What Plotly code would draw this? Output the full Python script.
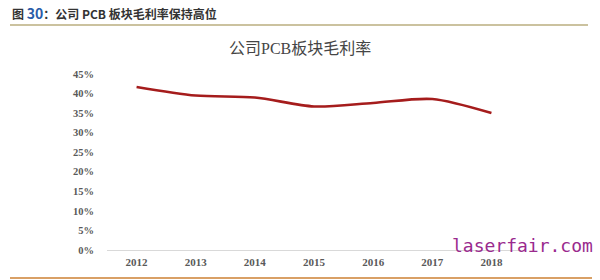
import plotly.graph_objects as go

years = ["2012", "2013", "2014", "2015", "2016", "2017", "2018"]
margin_pct = [41.7, 39.5, 39.0, 36.7, 37.6, 38.6, 35.0]
y_ticks = [0, 5, 10, 15, 20, 25, 30, 35, 40, 45]
y_labels = [f"<b>{v}%</b>" for v in y_ticks]
x_labels = [f"<b>{y}</b>" for y in years]

W, H = 600, 280
L, R, T, B = 107, 521, 74, 250


def px(x):
    return (x - L) / (R - L)


def py(y):
    return (B - y) / (B - T)


fig = go.Figure()
fig.add_trace(go.Scatter(
    x=years, y=margin_pct, mode="lines",
    line=dict(color="#A51C1C", width=2.6, shape="spline", smoothing=0.8),
    hoverinfo="skip", showlegend=False,
))

serif = "Liberation Serif, Times New Roman, serif"

fig.update_layout(
    width=W, height=H,
    margin=dict(l=L, r=W - R, t=T, b=H - B),
    paper_bgcolor="white", plot_bgcolor="white",
    xaxis=dict(
        type="category", range=[-0.5, 6.5],
        tickvals=years, ticktext=x_labels,
        showgrid=False, zeroline=False,
        showline=True, linecolor="#D9D9D9", linewidth=1,
        ticks="outside", ticklen=2, tickcolor="rgba(0,0,0,0)",
        tickfont=dict(family=serif, size=11, color="#595959"),
        fixedrange=True,
    ),
    yaxis=dict(
        range=[0, 45], tickvals=y_ticks, ticktext=y_labels,
        showgrid=False, zeroline=False, showline=False,
        ticks="outside", ticklen=10, tickcolor="rgba(0,0,0,0)",
        tickfont=dict(family=serif, size=10.5, color="#595959"), fixedrange=True,
    ),
    font=dict(family="Liberation Serif, Noto Sans CJK SC"),
)

# header line and bottom line
fig.add_shape(type="line", xref="paper", yref="paper",
              x0=px(10), x1=px(588), y0=py(25), y1=py(25),
              line=dict(color="#CBC29F", width=2))
fig.add_shape(type="line", xref="paper", yref="paper",
              x0=px(10), x1=px(592), y0=py(278), y1=py(278),
              line=dict(color="#D9A066", width=2))

# header text
fig.add_annotation(
    xref="paper", yref="paper", x=px(10), y=py(13), xanchor="left", yanchor="middle",
    text="<b>图 <span style='color:#2A5CA8;font-size:14px'>30</span>：公司 PCB 板块毛利率保持高位</b>",
    showarrow=False,
    font=dict(family="Noto Sans CJK SC, Liberation Sans", size=12, color="#333333"),
)

# chart title
fig.add_annotation(
    xref="paper", yref="paper", x=px(300), y=py(48), xanchor="center", yanchor="middle",
    text="公司PCB板块毛利率", showarrow=False,
    font=dict(family="Liberation Serif, Noto Sans CJK SC", size=16, color="#454545"),
)

# watermark
fig.add_annotation(
    xref="paper", yref="paper", x=px(522), y=py(245), xanchor="center", yanchor="middle",
    text="laserfair.com", showarrow=False,
    font=dict(family="DejaVu Sans Mono, monospace", size=18, color="#9A2A8E"),
)

fig.write_html("out.html")
